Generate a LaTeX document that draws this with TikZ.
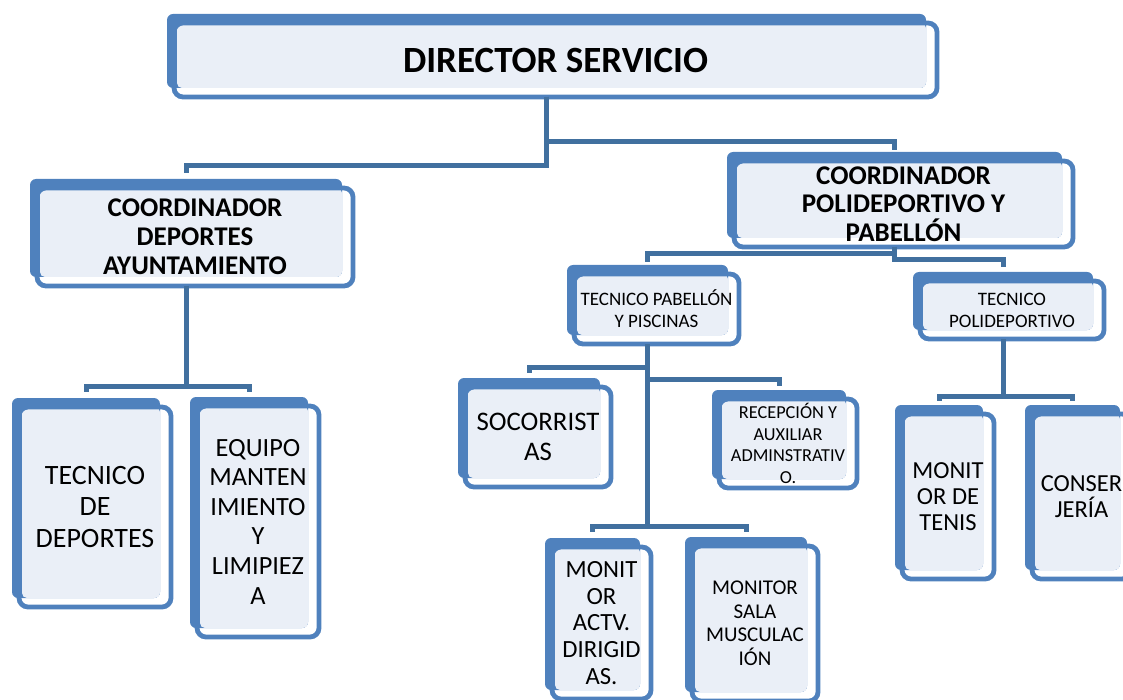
\documentclass[tikz,border=0pt]{standalone}
\usepackage{fontspec}
\setmainfont{Carlito}
\usetikzlibrary{calc}

\definecolor{boxblue}{HTML}{4F81BD}
\definecolor{boxfill}{HTML}{EAEFF7}
\definecolor{linkblue}{HTML}{41709F}

\tikzset{
  backbox/.style={fill=boxblue, rounded corners=6pt, inner sep=0pt, outer sep=0pt},
  frontbox/.style={draw=boxblue, line width=4.8pt, rounded corners=9pt,
    inner sep=0pt, outer sep=0pt, align=center, text=black},
  link/.style={draw=linkblue, line width=5pt},
}

% #1 name, #2-#5 back panel corners (x0,y0,x1,y1), #6 font, #7 label
\newcommand\orgunit[7]{%
  \node[backbox, minimum width={(#4)-(#2)}, minimum height={(#5)-(#3)}]
    (#1-b) at ({((#2)+(#4))/2},{((#3)+(#5))/2}) {};
  \fill[boxfill, rounded corners=5pt] ({(#2)+10},{(#3)+9}) rectangle (#4,#5);
  \node[frontbox, font=#6, minimum width={(#4)-(#2)+4}, minimum height={(#5)-(#3)}]
    (#1) at ({((#2)+(#4))/2+9},{((#3)+(#5))/2+9}) {#7};
}

\begin{document}
\begin{tikzpicture}[x=1pt, y=-1pt]
\clip (0,0) rectangle (1123,700);

% ----- units -----
\orgunit{dir}{167}{14}{926}{88}{\bfseries\fontsize{37}{40}\selectfont}{DIRECTOR SERVICIO}
\orgunit{cdep}{30}{179}{342}{277}{\bfseries\fontsize{27}{29}\selectfont}{COORDINADOR\\DEPORTES\\AYUNTAMIENTO}
\orgunit{cpol}{727}{152}{1062}{238}{\bfseries\fontsize{27}{28.5}\selectfont}{COORDINADOR\\POLIDEPORTIVO Y\\PABELLÓN}
\orgunit{tpab}{567}{265}{728}{335}{\fontsize{19}{22}\selectfont}{TECNICO PABELLÓN\\Y PISCINAS}
\orgunit{tpol}{913}{272}{1093}{330}{\fontsize{19}{22}\selectfont}{TECNICO\\POLIDEPORTIVO}
\orgunit{tdep}{12}{398}{160}{598}{\fontsize{28}{31.5}\selectfont}{TECNICO\\DE\\DEPORTES}
\orgunit{equipo}{190}{397}{308}{628}{\fontsize{26.3}{29.6}\selectfont}{EQUIPO\\MANTEN\\IMIENTO\\Y\\LIMIPIEZ\\A}
\orgunit{socor}{458}{378}{600}{478}{\fontsize{26.8}{30}\selectfont}{SOCORRIST\\AS}
\orgunit{recep}{712}{390}{846}{479}{\fontsize{18.3}{21.5}\selectfont}{RECEPCIÓN Y\\AUXILIAR\\ADMINSTRATIV\\O.}
\orgunit{mactv}{545}{538}{640}{690}{\fontsize{24.7}{26.7}\selectfont}{MONIT\\OR\\ACTV.\\DIRIGID\\AS.}
\orgunit{msala}{685}{537}{807}{692}{\fontsize{21}{23.5}\selectfont}{MONITOR\\SALA\\MUSCULAC\\IÓN}
\orgunit{tenis}{895}{405}{983}{570}{\fontsize{24.5}{26}\selectfont}{MONIT\\OR DE\\TENIS}
\orgunit{conserje}{1025}{405}{1120}{570}{\fontsize{24.5}{25.5}\selectfont}{CONSER\\JERÍA}

% ----- reporting lines -----
\draw[link] (dir-b.south |- dir.south) -- (dir-b.south |- 0,166) -| ([yshift=6pt]cdep-b.north);
\draw[link] (dir-b.south |- dir.south) -- (dir-b.south |- 0,142) -| ([yshift=2pt]cpol-b.north);

\draw[link] (cdep-b.south |- cdep.south) -- (cdep-b.south |- 0,386) -| ([yshift=6pt]tdep-b.north);
\draw[link] (cdep-b.south |- 0,386) -| ([yshift=5pt]equipo-b.north);

\draw[link] (cpol-b.south |- cpol.south) -- (cpol-b.south |- 0,254) -| ([yshift=3pt]tpab-b.north);
\draw[link] (cpol-b.south |- cpol.south) -- (cpol-b.south |- 0,260) -| ([yshift=5pt]tpol-b.north);

\draw[link] (tpab-b.south |- tpab.south) -- (tpab-b.south |- 0,526);
\draw[link] (tpab-b.south |- 0,367) -| ([yshift=5pt]socor-b.north);
\draw[link] (tpab-b.south |- 0,379) -| ([yshift=4pt]recep-b.north);
\draw[link] (tpab-b.south |- 0,526) -| ([yshift=6pt]mactv-b.north);
\draw[link] (tpab-b.south |- 0,526) -| ([yshift=5pt]msala-b.north);

\draw[link] (tpol-b.south |- tpol.south) -- (tpol-b.south |- 0,396) -| ([yshift=4pt]tenis-b.north);
\draw[link] (tpol-b.south |- 0,396) -| ([yshift=4pt]conserje-b.north);
\end{tikzpicture}
\end{document}
